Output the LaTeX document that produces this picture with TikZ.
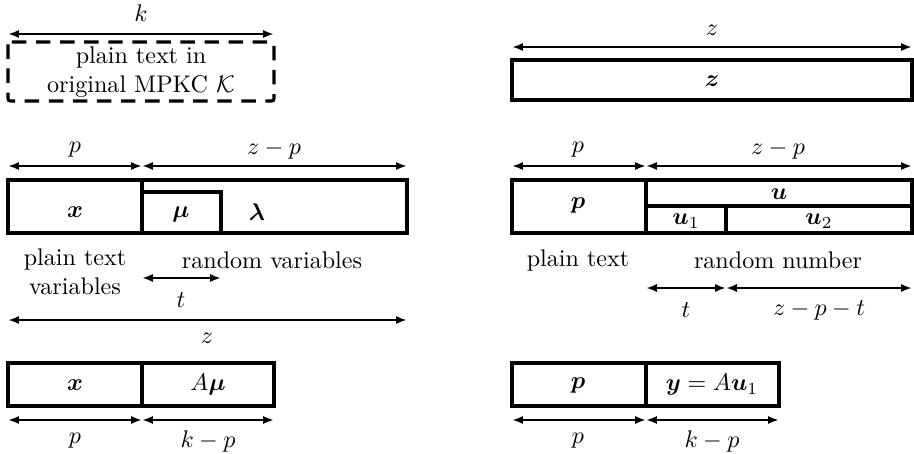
\documentclass[tikz,border=0pt]{standalone}
\usepackage{amsmath,bm}
\usetikzlibrary{arrows.meta}

\begin{document}
\begin{tikzpicture}[
    x=0.0146cm, y=-0.0146cm,
    >={Latex[length=1.6mm,width=1.2mm]},
    cell/.style={line width=1.35pt},
    span/.style={line width=1.1pt, <->},
    dashbox/.style={line width=1.35pt, dash pattern=on 6pt off 4pt, rounded corners=1pt}
]
\useasboundingbox (0,0) rectangle (914,453);

% ---- left column ----
\coordinate (kL) at (8,34);
\coordinate (kR) at (274,34);
\draw[span] (kL) -- (kR);
\node (klab) at (141,13) {$k$};
\draw[dashbox] (8,42) rectangle (274,101);
\node[align=center] (orig) at (141,72) {plain text in\\original MPKC $\mathcal{K}$};

\coordinate (a0) at (8,166);
\coordinate (a1) at (142,166);
\coordinate (a2) at (407,166);
\draw[span] (a0) -- (a1);
\draw[span] (a1) -- (a2);
\node (pA) at (75,150) {$p$};
\node (zpA) at (274,150) {$z-p$};

\draw[cell] (8,180) rectangle (407,233);
\draw[cell] (142,180) -- (142,233);
\draw[cell] (142,192) rectangle (221,233);
\node (xA) at (75,212) {$\bm{x}$};
\node (muA) at (181,214) {$\bm{\mu}$};
\node (lamA) at (257,212) {$\bm{\lambda}$};
\node[align=center] (ptv) at (75,272) {plain text\\variables};
\node (rv) at (272,260) {random variables};

\coordinate (t0) at (142,278);
\coordinate (t1) at (221,278);
\draw[span] (t0) -- (t1);
\node (tA) at (181,300) {$t$};

\coordinate (z0) at (8,320);
\coordinate (z1) at (407,320);
\draw[span] (z0) -- (z1);
\node (zA) at (207,338) {$z$};

\draw[cell] (8,363) rectangle (274,406);
\draw[cell] (142,363) -- (142,406);
\node (xB) at (75,385) {$\bm{x}$};
\node (Amu) at (208,385) {$A\bm{\mu}$};
\coordinate (b0) at (8,420);
\coordinate (b1) at (142,420);
\coordinate (b2) at (274,420);
\draw[span] (b0) -- (b1);
\draw[span] (b1) -- (b2);
\node (pB) at (75,441) {$p$};
\node (kpB) at (208,441) {$k-p$};

% ---- right column ----
\node (zlab) at (712,30) {$z$};
\coordinate (zr0) at (512,47);
\coordinate (zr1) at (912,47);
\draw[span] (zr0) -- (zr1);
\draw[cell] (512,60) rectangle (912,100);
\node (zbox) at (712,81) {$\bm{z}$};

\coordinate (c0) at (512,166);
\coordinate (c1) at (646,166);
\coordinate (c2) at (912,166);
\draw[span] (c0) -- (c1);
\draw[span] (c1) -- (c2);
\node (pC) at (578,150) {$p$};
\node (zpC) at (778,150) {$z-p$};

\draw[cell] (512,180) rectangle (912,233);
\draw[cell] (646,180) -- (646,233);
\draw[cell] (646,206) -- (912,206);
\draw[cell] (726,206) -- (726,233);
\node (pbox) at (578,205) {$\bm{p}$};
\node (u) at (779,194) {$\bm{u}$};
\node (u1) at (686,221) {$\bm{u}_1$};
\node (u2) at (819,221) {$\bm{u}_2$};
\node (pt) at (578,260) {plain text};
\node (rn) at (778,260) {random number};

\coordinate (d0) at (646,288);
\coordinate (d1) at (726,288);
\coordinate (d2) at (912,288);
\draw[span] (d0) -- (d1);
\draw[span] (d1) -- (d2);
\node (tC) at (686,310) {$t$};
\node (zptC) at (819,310) {$z-p-t$};

\draw[cell] (512,363) rectangle (779,406);
\draw[cell] (646,363) -- (646,406);
\node (pD) at (578,385) {$\bm{p}$};
\node (yD) at (712,385) {$\bm{y}=A\bm{u}_1$};
\coordinate (e0) at (512,420);
\coordinate (e1) at (646,420);
\coordinate (e2) at (779,420);
\draw[span] (e0) -- (e1);
\draw[span] (e1) -- (e2);
\node (pE) at (578,441) {$p$};
\node (kpE) at (712,441) {$k-p$};
\end{tikzpicture}
\end{document}
